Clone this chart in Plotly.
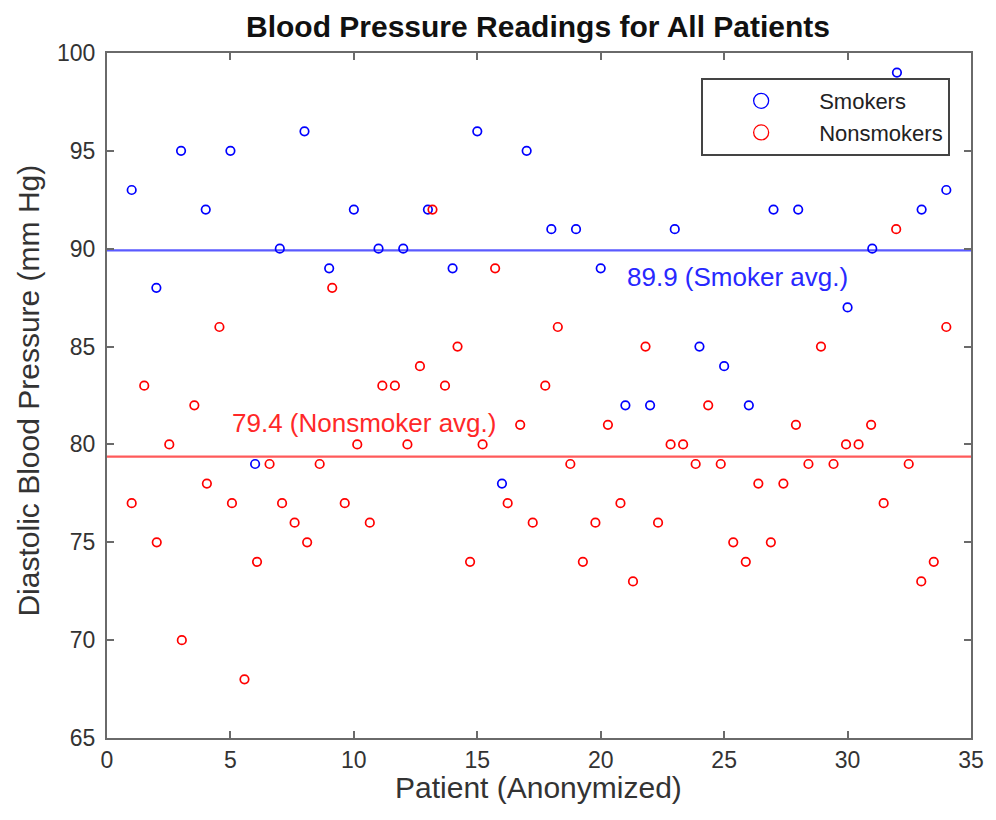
import plotly.graph_objects as go
import numpy as np

# ---- data ----
smoker_x = list(range(1, 35))
smoker_bp = [93, 88, 95, 92, 95, 79, 90, 96, 89, 92, 90, 90, 92, 89, 96, 78, 95,
             91, 91, 89, 82, 82, 91, 85, 84, 82, 92, 92, 96, 87, 90, 99, 92, 93]

nonsmoker_x = [1.000, 1.508, 2.015, 2.523, 3.031, 3.538, 4.046, 4.554, 5.062, 5.569,
               6.077, 6.585, 7.092, 7.600, 8.108, 8.615, 9.123, 9.631, 10.138, 10.646,
               11.154, 11.662, 12.169, 12.677, 13.185, 13.692, 14.200, 14.708, 15.215, 15.723,
               16.231, 16.738, 17.246, 17.754, 18.262, 18.769, 19.277, 19.785, 20.292, 20.800,
               21.308, 21.815, 22.323, 22.831, 23.338, 23.846, 24.354, 24.862, 25.369, 25.877,
               26.385, 26.892, 27.400, 27.908, 28.415, 28.923, 29.431, 29.938, 30.446, 30.954,
               31.462, 31.969, 32.477, 32.985, 33.492, 34.000]
nonsmoker_bp = [77, 83, 75, 80, 70, 82, 78, 86, 77, 68,
                74, 79, 77, 76, 75, 79, 88, 77, 80, 76,
                83, 83, 80, 84, 92, 83, 85, 74, 80, 89,
                77, 81, 76, 83, 86, 79, 74, 76, 81, 77,
                73, 85, 76, 80, 80, 79, 82, 79, 75, 74,
                78, 75, 78, 81, 79, 85, 79, 80, 80, 81,
                77, 91, 79, 73, 74, 86]

x_range = [0, 35]
y_range = [65, 100]
x_ticks = [0, 5, 10, 15, 20, 25, 30, 35]
y_ticks = [65, 70, 75, 80, 85, 90, 95, 100]

title_text = "Blood Pressure Readings for All Patients"
x_label = "Patient (Anonymized)"
y_label = "Diastolic Blood Pressure (mm Hg)"

smoker_avg = float(np.mean(smoker_bp))
nonsmoker_avg = float(np.mean(nonsmoker_bp))

BLUE = "rgb(0,0,255)"
RED = "rgb(255,0,0)"
FONT = "Liberation Sans, Arial, Helvetica, sans-serif"
AXC = "#6a6a6a"
TXC = "#333333"

fig = go.Figure()

# average lines
fig.add_trace(go.Scatter(x=x_range, y=[smoker_avg, smoker_avg], mode="lines",
                         line=dict(color="rgb(90,90,255)", width=2.2), showlegend=False,
                         hoverinfo="skip"))
fig.add_trace(go.Scatter(x=x_range, y=[nonsmoker_avg, nonsmoker_avg], mode="lines",
                         line=dict(color="rgb(255,90,90)", width=2.2), showlegend=False,
                         hoverinfo="skip"))

# data points
fig.add_trace(go.Scatter(x=smoker_x, y=smoker_bp, mode="markers", showlegend=False,
                         marker=dict(symbol="circle-open", size=8.5, color=BLUE,
                                     line=dict(color=BLUE, width=1.7))))
fig.add_trace(go.Scatter(x=nonsmoker_x, y=nonsmoker_bp, mode="markers", showlegend=False,
                         marker=dict(symbol="circle-open", size=8.5, color=RED,
                                     line=dict(color=RED, width=1.7))))

# legend entries
fig.add_trace(go.Scatter(x=[None], y=[None], mode="markers", name="Smokers",
                         marker=dict(symbol="circle-open", size=15, color=BLUE,
                                     line=dict(color=BLUE, width=1.3))))
fig.add_trace(go.Scatter(x=[None], y=[None], mode="markers", name="Nonsmokers",
                         marker=dict(symbol="circle-open", size=15, color=RED,
                                     line=dict(color=RED, width=1.3))))

L, R, T, B = 107, 19, 53, 82
W, H = 996, 820
pw, ph = W - L - R, H - T - B

def px_x(px):
    return (px - L) / pw

def px_y(py):
    return (H - B - py) / ph

axis_common = dict(showline=True, linecolor=AXC, linewidth=2, mirror="ticks",
                   ticks="inside", ticklen=7, tickwidth=2, tickcolor=AXC,
                   showgrid=False, zeroline=False,
                   tickfont=dict(family=FONT, size=23, color=TXC))

fig.update_layout(
    width=W, height=H,
    margin=dict(l=L, r=R, t=T, b=B, pad=0),
    paper_bgcolor="white", plot_bgcolor="white",
    font=dict(family=FONT, color=TXC),
    xaxis=dict(range=x_range, tickvals=x_ticks, ticklabelstandoff=0, **axis_common),
    yaxis=dict(range=y_range, tickvals=y_ticks, ticklabelstandoff=5, **axis_common),
    legend=dict(x=px_x(956), y=px_y(78), xanchor="right", yanchor="top",
                bgcolor="white", bordercolor="#444444", borderwidth=2,
                font=dict(family=FONT, size=22, color="#222222"),
                itemwidth=106, tracegroupgap=0),
    showlegend=True,
)

annotations = [
    dict(text="<b>" + title_text + "</b>", x=px_x(541), y=px_y(26), xref="paper", yref="paper",
         xanchor="center", yanchor="middle", showarrow=False,
         font=dict(family=FONT, size=30, color="#111111")),
    dict(text=x_label, x=px_x(541), y=px_y(788), xref="paper", yref="paper",
         xanchor="center", yanchor="middle", showarrow=False,
         font=dict(family=FONT, size=30, color=TXC)),
    dict(text=y_label, x=px_x(27), y=px_y(391), xref="paper", yref="paper",
         xanchor="center", yanchor="middle", showarrow=False, textangle=-90,
         font=dict(family=FONT, size=30, color=TXC)),
    dict(text=f"{smoker_avg:.1f} (Smoker avg.)", x=21, y=smoker_avg - 1.35,
         xref="x", yref="y", xanchor="left", yanchor="middle", showarrow=False,
         font=dict(family=FONT, size=26, color="rgb(40,40,255)")),
    dict(text=f"{nonsmoker_avg:.1f} (Nonsmoker avg.)", x=5, y=nonsmoker_avg + 1.7,
         xref="x", yref="y", xanchor="left", yanchor="middle", showarrow=False,
         font=dict(family=FONT, size=26, color="rgb(255,40,40)")),
]
fig.update_layout(annotations=annotations)

fig.write_html("out.html", config={"displayModeBar": False},
               post_script="document.body.style.margin='0';")
